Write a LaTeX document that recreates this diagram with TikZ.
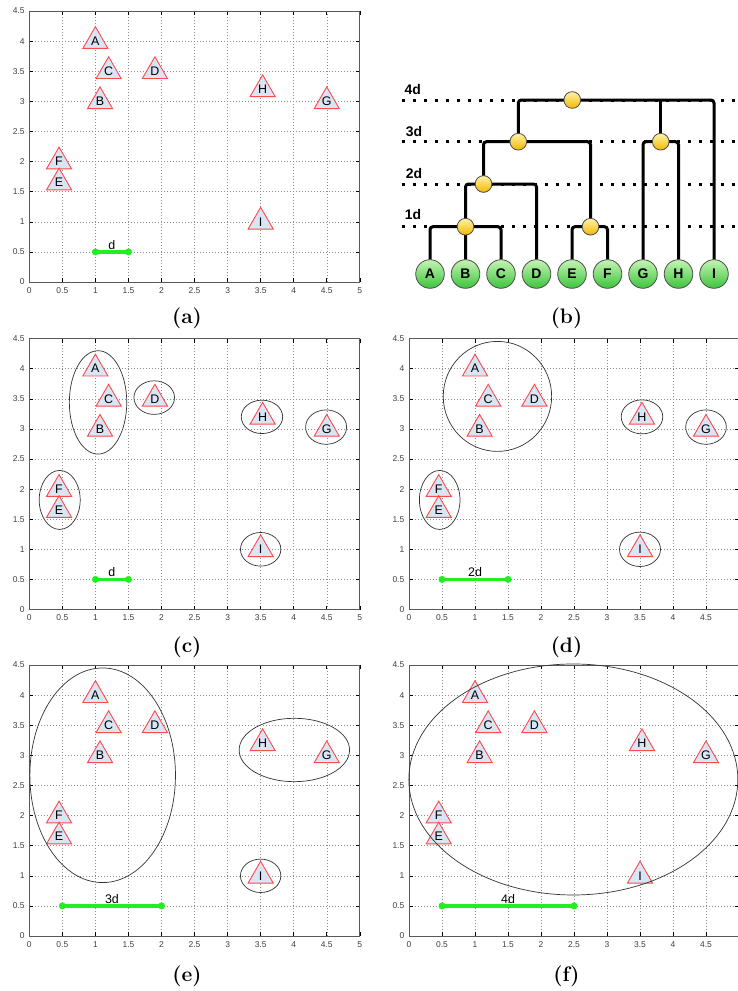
\documentclass[tikz,border=0pt]{standalone}
\usepackage{fontspec}
\newfontfamily\arial{Liberation Sans}
\usetikzlibrary{shapes.geometric}
\definecolor{trifillc}{HTML}{D9E5F4}
\definecolor{triedge}{HTML}{FF4A4A}
\definecolor{barg}{HTML}{22EE22}
\definecolor{leaftop}{HTML}{C4F5B4}
\definecolor{leafbot}{HTML}{3CC43C}
\definecolor{jtop}{HTML}{FFF3A8}
\definecolor{jbot}{HTML}{F2B800}
\tikzset{
  tri/.style={regular polygon, regular polygon sides=3, minimum size=29bp, inner sep=0pt,
    draw=triedge, line width=0.9bp, fill=trifillc, text=black,
    font=\arial\fontsize{12.5}{13}\selectfont},
  gridl/.style={draw=black!45, line width=0.5bp, dash pattern=on 1bp off 2bp},
  tickm/.style={draw=black, line width=0.6bp},
  framel/.style={draw=black!65, line width=1bp},
  ticklab/.style={font=\arial\fontsize{8.5}{9}\selectfont, text=black!75, inner sep=0pt},
  ell/.style={draw=black!80, line width=0.7bp},
  barl/.style={draw=barg, line width=3.5bp},
  bdot/.style={circle, fill=barg, minimum size=7bp, inner sep=0pt},
  barlab/.style={font=\arial\fontsize{12.5}{13}\selectfont, inner sep=0pt},
  capt/.style={font=\fontsize{21}{25}\selectfont\bfseries, inner sep=0pt},
  leaf/.style={circle, minimum size=28.6bp, inner sep=0pt, top color=leaftop, bottom color=leafbot,
    draw=black!70, line width=0.8bp, font=\arial\bfseries\fontsize{14}{14}\selectfont},
  jn/.style={circle, minimum size=16.7bp, inner sep=0pt, top color=jtop, bottom color=jbot,
    draw=black!70, line width=0.8bp},
  dline/.style={draw=black, line width=3bp, rounded corners=3bp},
  dotl/.style={draw=black, line width=3bp, dash pattern=on 3bp off 8bp},
  lvl/.style={font=\arial\bfseries\fontsize{14}{14}\selectfont, inner sep=0pt}
}
\newcommand\plotframe[1]{%
  \foreach \gx in {0.5,1,1.5,2,2.5,3,3.5,4,4.5} \draw[gridl] (\gx,0) -- (\gx,4.5);
  \foreach \gy in {0.5,1,1.5,2,2.5,3,3.5,4} \draw[gridl] (0,\gy) -- (5,\gy);
  \foreach \gx in {0,0.5,1,1.5,2,2.5,3,3.5,4,4.5,5} {\draw[tickm] (\gx,0) -- ++(0,4bp); \draw[tickm] (\gx,4.5) -- ++(0,-4bp);}
  \foreach \gy in {0,0.5,1,1.5,2,2.5,3,3.5,4,4.5} {\draw[tickm] (0,\gy) -- ++(4bp,0); \draw[tickm] (5,\gy) -- ++(-4bp,0);}
  \draw[framel] (0,0) rectangle (5,4.5);
  \foreach \gx in {#1} \node[ticklab, anchor=north] at ([yshift=-5bp]\gx,0) {\gx};
  \foreach \gy in {0,0.5,1,1.5,2,2.5,3,3.5,4,4.5} \node[ticklab, anchor=east] at ([xshift=-4.5bp]0,\gy) {\gy};
}
\newcommand\tris[1]{%
  \node[tri] (#1A) at (1,4) {A};
  \node[tri] (#1C) at (1.2,3.5) {C};
  \node[tri] (#1D) at (1.9,3.5) {D};
  \node[tri] (#1B) at (1.07,3.0) {B};
  \node[tri] (#1H) at (3.53,3.2) {H};
  \node[tri] (#1G) at (4.5,3.0) {G};
  \node[tri] (#1F) at (0.45,2.0) {F};
  \node[tri] (#1E) at (0.45,1.65) {E};
  \node[tri] (#1I) at (3.5,1.0) {I};
}
\newcommand\scalebar[4]{% prefix, x1, x2, label
  \pgfmathsetmacro\sbmid{(#2+#3)/2}%
  \node[bdot] (#1s1) at (#2,0.5) {};
  \node[bdot] (#1s2) at (#3,0.5) {};
  \draw[barl] (#1s1.center) -- (#1s2.center);
  \node[barlab, anchor=base] (#1sl) at ([yshift=2.5bp]\sbmid,0.5) {#4};
}
\begin{document}
\begin{tikzpicture}[x=1bp,y=-1bp]
\clip (0,0) rectangle (738,991);
\fill[white] (0,0) rectangle (738,991);

% ---------- (a)
\begin{scope}[shift={(29.3,282)}, x=66.1bp, y=60.2bp]
  \plotframe{0,0.5,1,1.5,2,2.5,3,3.5,4,4.5,5}
  \tris{a}
  \scalebar{a}{1}{1.5}{d}
\end{scope}
\node[capt] (capa) at (187,318) {(a)};

% ---------- (b) dendrogram
\foreach \ly in {100,141.7,184,226.7} \draw[dotl] (401.7,\ly) -- (745,\ly);
\node[lvl] (l4) at (412.7,90) {4d};
\node[lvl] (l3) at (414,132) {3d};
\node[lvl] (l2) at (414,174) {2d};
\node[lvl] (l1) at (413,215) {1d};
\foreach \nm [count=\i from 0] in {A,B,C,D,E,F,G,H,I}
  \node[leaf] (lf\nm) at ({430+35.5*\i},274) {\nm};
\coordinate (j1) at (465.5,226.7);
\coordinate (j2) at (483.5,184);
\coordinate (j3) at (518.3,141.7);
\coordinate (j4) at (572.3,100);
\coordinate (j5) at (590.5,226.7);
\coordinate (j6) at (660.7,141.7);
\draw[dline] (lfA.north) |- (j1) -| (lfC.north);
\draw[dline] (lfB.north) -- (j1) |- (j2) -| (lfD.north);
\draw[dline] (lfE.north) |- (j5) -| (lfF.north);
\draw[dline] (j2) |- (j3) -| (j5);
\draw[dline] (j3) |- (j4) -| (lfI.north);
\draw[dline] (lfG.north) |- (j6) -| (lfH.north);
\draw[dline] (j6) -- (j6 |- j4);
\foreach \k in {1,...,6} \node[jn] (jn\k) at (j\k) {};
\node[capt] (capb) at (566.5,318) {(b)};

% ---------- (c)
\begin{scope}[shift={(29.3,609.5)}, x=66.1bp, y=60.2bp]
  \plotframe{0,0.5,1,1.5,2,2.5,3,3.5,4,4.5,5}
  \tris{c}
  \scalebar{c}{1}{1.5}{d}
  \draw[ell] (1.04,3.44) ellipse [x radius=28.7bp, y radius=51.7bp];
  \draw[ell] (1.89,3.52) ellipse [x radius=20.3bp, y radius=16.8bp];
  \draw[ell] (3.52,3.2) ellipse [x radius=20.7bp, y radius=16.7bp];
  \draw[ell] (4.49,3.03) ellipse [x radius=20.5bp, y radius=17.2bp];
  \draw[ell] (0.46,1.82) ellipse [x radius=20.5bp, y radius=29.5bp];
  \draw[ell] (3.5,1.0) ellipse [x radius=20.2bp, y radius=16.8bp];
\end{scope}
\node[capt] (capc) at (187,647) {(c)};

% ---------- (d)
\begin{scope}[shift={(409,609.5)}, x=66bp, y=60.2bp]
  \plotframe{0,0.5,1,1.5,2,2.5,3,3.5,4,4.5}
  \tris{d}
  \scalebar{d}{0.5}{1.5}{2d}
  \draw[ell] (1.34,3.54) ellipse [x radius=54.2bp, y radius=55bp];
  \draw[ell] (3.53,3.2) ellipse [x radius=20.8bp, y radius=17bp];
  \draw[ell] (4.5,3.03) ellipse [x radius=20.3bp, y radius=17.2bp];
  \draw[ell] (0.465,1.82) ellipse [x radius=20.3bp, y radius=29.5bp];
  \draw[ell] (3.5,1.0) ellipse [x radius=20.5bp, y radius=17.2bp];
\end{scope}
\node[capt] (capd) at (566.5,647) {(d)};

% ---------- (e)
\begin{scope}[shift={(29.3,936)}, x=66.1bp, y=60.2bp]
  \plotframe{0,0.5,1,1.5,2,2.5,3,3.5,4,4.5,5}
  \tris{e}
  \scalebar{e}{0.5}{2}{3d}
  \draw[ell] (1.11,2.67) ellipse [x radius=72.8bp, y radius=107.3bp];
  \draw[ell] (4.01,3.09) ellipse [x radius=55.2bp, y radius=31.7bp];
  \draw[ell] (3.5,1.0) ellipse [x radius=20.2bp, y radius=16.7bp];
\end{scope}
\node[capt] (cape) at (187,976) {(e)};

% ---------- (f)
\begin{scope}[shift={(409,936)}, x=66bp, y=60.2bp]
  \plotframe{0,0.5,1,1.5,2,2.5,3,3.5,4,4.5}
  \tris{f}
  \scalebar{f}{0.5}{2.5}{4d}
  \draw[ell] (2.49,2.6) ellipse [x radius=164.5bp, y radius=115.5bp];
\end{scope}
\node[capt] (capf) at (566.5,976) {(f)};
\end{tikzpicture}
\end{document}
